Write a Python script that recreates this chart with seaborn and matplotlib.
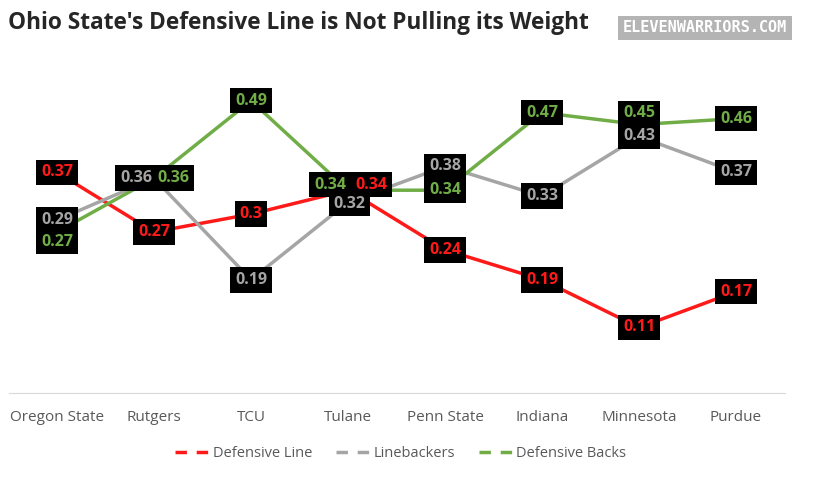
import numpy as np
import pandas as pd
import matplotlib
matplotlib.use("Agg")
import matplotlib.pyplot as plt
import seaborn as sns
from matplotlib.lines import Line2D

teams = ["Oregon State", "Rutgers", "TCU", "Tulane", "Penn State", "Indiana", "Minnesota", "Purdue"]
d_line = [0.37, 0.27, 0.3, 0.34, 0.24, 0.19, 0.11, 0.17]
linebackers = [0.29, 0.36, 0.19, 0.32, 0.38, 0.33, 0.43, 0.37]
d_backs = [0.27, 0.36, 0.49, 0.34, 0.34, 0.47, 0.45, 0.46]
groups = ["Defensive Line", "Linebackers", "Defensive Backs"]
colors = {"Defensive Line": "#FF1A1A", "Linebackers": "#A5A5A5", "Defensive Backs": "#70AD47"}

df = pd.DataFrame({"team": teams * 3,
                   "x": list(range(len(teams))) * 3,
                   "value": d_line + linebackers + d_backs,
                   "group": [g for g in groups for _ in teams]})

sns.set_style("white")
plt.rcParams['font.family'] = ['Open Sans', 'DejaVu Sans']

fig = plt.figure(figsize=(8.18, 4.8), dpi=100)
ax = fig.add_axes([0.0104, 0.181, 0.9487, 0.746])
sns.lineplot(data=df, x="x", y="value", hue="group", palette=colors, linewidth=2.5,
             legend=False, ax=ax)

# label nudges (points) so overlapping boxes stay readable
nudge = {("Defensive Backs", 0): (0, -7), ("Linebackers", 1): (-13, 0), ("Defensive Backs", 1): (14, 0),
         ("Defensive Backs", 3): (-13, 4), ("Defensive Line", 3): (17, 4), ("Linebackers", 3): (1, -1),
         ("Defensive Backs", 6): (0, 8)}
label_z = {"Defensive Line": 5, "Linebackers": 6, "Defensive Backs": 5}
for g, vals in zip(groups, [d_line, linebackers, d_backs]):
    for i, v in enumerate(vals):
        dx, dy = nudge.get((g, i), (0, 0))
        ax.annotate(f"{v:g}", (i, v), xytext=(dx, dy), textcoords="offset points",
                    ha="center", va="center", color=colors[g], fontsize=11.5, fontweight="bold",
                    bbox=dict(boxstyle="square,pad=0.3", fc="black", ec="none"), zorder=label_z[g])

ax.set_xlim(-0.5, len(teams) - 0.5)
ax.set_ylim(0, 0.6)
ax.set_xticks(range(len(teams)))
ax.set_xticklabels(teams, color="#595959", fontsize=11)
ax.set_yticks([])
ax.set_xlabel("")
ax.set_ylabel("")
ax.tick_params(axis="x", length=0, pad=12)
for s in ["top", "right", "left"]:
    ax.spines[s].set_visible(False)
ax.spines["bottom"].set_color("#D9D9D9")

handles = [Line2D([0], [0], color=colors[g], lw=2.5, linestyle=(0, (3.3, 2.8))) for g in groups]
fig.legend(handles, groups, loc="center", bbox_to_anchor=(0.49, 0.056), ncol=3, frameon=False,
           fontsize=10.5, labelcolor="#595959", handlelength=2.5, handletextpad=0.1, columnspacing=1.6)

fig.text(0.01, 0.952, "Ohio State's Defensive Line is Not Pulling its Weight", fontsize=16.3,
         fontweight="bold", va="center", ha="left")
fig.text(0.862, 0.942, "ELEVENWARRIORS.COM", family="DejaVu Sans Mono", fontweight="bold",
         fontsize=11, color="white", ha="center", va="center",
         bbox=dict(boxstyle="square,pad=0.3", fc="#B4B4B4", ec="none"))

fig.savefig("out.png", dpi=100)
